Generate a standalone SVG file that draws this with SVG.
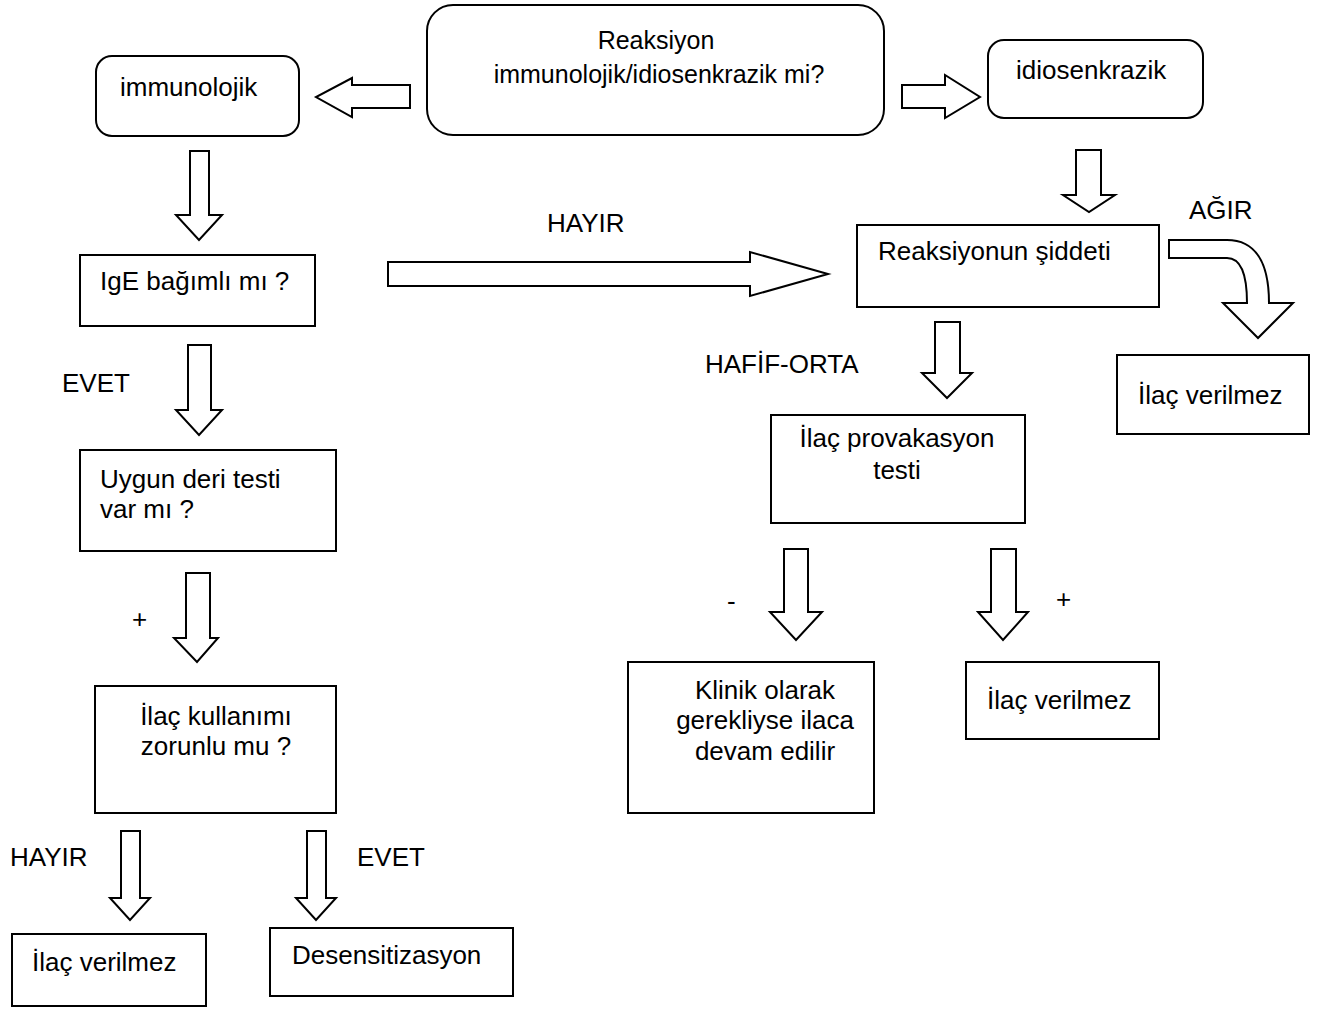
<svg xmlns="http://www.w3.org/2000/svg" width="1321" height="1010" viewBox="0 0 1321 1010">
<style>
.box{fill:#fff;stroke:#000;stroke-width:2}
.arr{fill:#fff;stroke:#000;stroke-width:2;stroke-linejoin:miter}
text{font-family:"Liberation Sans",Arial,sans-serif;font-size:26px;fill:#000}
.c{text-anchor:middle}
.t{font-size:25px}
</style>
<rect width="1321" height="1010" fill="#fff"/>
<g id="connectors">
<path class="arr" d="M410,85 L352,85 L352,78 L316,97 L352,117 L352,108 L410,108 Z"/>
<path class="arr" d="M902,85 L945,85 L945,75 L980,97 L945,118 L945,108 L902,108 Z"/>
<path class="arr" d="M190,151 L209,151 L209,215 L222,215 L199,240 L176,215 L190,215 Z"/>
<path class="arr" d="M388,262 L750,262 L750,252 L828,274 L750,296 L750,286 L388,286 Z"/>
<path class="arr" d="M1076,150 L1101,150 L1101,195 L1115,195 L1089,212 L1063,195 L1076,195 Z"/>
<path class="arr" d="M1169,240 L1227,240 C1255,240 1269,262 1269,303 L1293,303 L1258,338 L1223,303 L1247,303 C1247,273 1240,258 1227,258 L1169,258 Z"/>
<path class="arr" d="M935,322 L960,322 L960,373 L972,373 L947,398 L922,373 L935,373 Z"/>
<path class="arr" d="M188,345 L211,345 L211,410 L222,410 L199,435 L176,410 L188,410 Z"/>
<path class="arr" d="M186,573 L210,573 L210,638 L218,638 L197,662 L174,638 L186,638 Z"/>
<path class="arr" d="M784,549 L808,549 L808,612 L822,612 L796,640 L770,612 L784,612 Z"/>
<path class="arr" d="M991,549 L1016,549 L1016,612 L1028,612 L1003,640 L978,612 L991,612 Z"/>
<path class="arr" d="M121,831 L140,831 L140,898 L150,898 L130,920 L110,898 L121,898 Z"/>
<path class="arr" d="M307,831 L326,831 L326,898 L336,898 L316,920 L296,898 L307,898 Z"/>
</g>
<g id="n-top"><rect class="box" x="427" y="5" width="457" height="130" rx="26"/><text class="c t" x="656" y="49">Reaksiyon</text><text class="c t" x="659" y="83">immunolojik/idiosenkrazik mi?</text></g>
<g id="n-immuno"><rect class="box" x="96" y="56" width="203" height="80" rx="16"/><text x="120" y="96">immunolojik</text></g>
<g id="n-idio"><rect class="box" x="988" y="40" width="215" height="78" rx="16"/><text x="1016" y="79">idiosenkrazik</text></g>
<g id="n-ige"><rect class="box" x="80" y="255" width="235" height="71"/><text x="100" y="290">IgE bağımlı mı ?</text></g>
<g id="n-siddet"><rect class="box" x="857" y="225" width="302" height="82"/><text x="878" y="260">Reaksiyonun şiddeti</text></g>
<g id="n-verilmez1"><rect class="box" x="1117" y="355" width="192" height="79"/><text x="1138" y="404">İlaç verilmez</text></g>
<g id="n-provak"><rect class="box" x="771" y="415" width="254" height="108"/><text class="c" x="897" y="447">İlaç provakasyon</text><text class="c" x="897" y="479">testi</text></g>
<g id="n-deri"><rect class="box" x="80" y="450" width="256" height="101"/><text x="100" y="488">Uygun deri testi</text><text x="100" y="518">var mı ?</text></g>
<g id="n-zorunlu"><rect class="box" x="95" y="686" width="241" height="127"/><text class="c" x="216" y="725">İlaç kullanımı</text><text class="c" x="216" y="755">zorunlu mu ?</text></g>
<g id="n-klinik"><rect class="box" x="628" y="662" width="246" height="151"/><text class="c" x="765" y="699">Klinik olarak</text><text class="c" x="765" y="729">gerekliyse ilaca</text><text class="c" x="765" y="760">devam edilir</text></g>
<g id="n-verilmez2"><rect class="box" x="966" y="662" width="193" height="77"/><text x="987" y="709">İlaç verilmez</text></g>
<g id="n-verilmez3"><rect class="box" x="12" y="934" width="194" height="72"/><text x="32" y="971">İlaç verilmez</text></g>
<g id="n-desens"><rect class="box" x="270" y="928" width="243" height="68"/><text x="292" y="964">Desensitizasyon</text></g>
<g id="labels">
<text x="547" y="232">HAYIR</text>
<text x="1189" y="219">AĞIR</text>
<text x="705" y="373">HAFİF-ORTA</text>
<text x="62" y="392">EVET</text>
<text x="132" y="628">+</text>
<text x="727" y="610">-</text>
<text x="1056" y="608">+</text>
<text x="10" y="866">HAYIR</text>
<text x="357" y="866">EVET</text>
</g>
</svg>
